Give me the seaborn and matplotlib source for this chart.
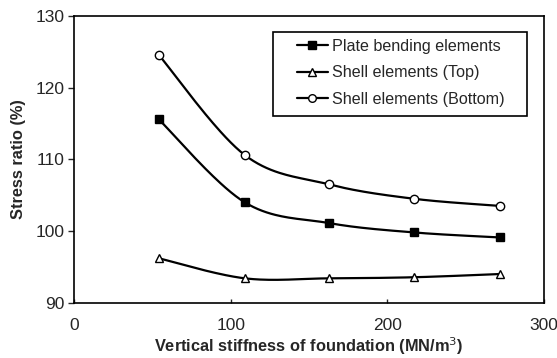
import numpy as np
import pandas as pd
import matplotlib
matplotlib.use("Agg")
import matplotlib.pyplot as plt
from matplotlib.lines import Line2D
from matplotlib.patches import Rectangle
import seaborn as sns

stiffness = [54, 109, 163, 217, 272]
plate_bending = [115.6, 104.0, 101.1, 99.8, 99.1]
shell_top = [96.2, 93.4, 93.4, 93.55, 94.0]
shell_bottom = [124.6, 110.6, 106.5, 104.5, 103.5]
series_names = ["Plate bending elements", "Shell elements (Top)", "Shell elements (Bottom)"]
x_ticks = [0, 100, 200, 300]
y_ticks = [90, 100, 110, 120, 130]

sns.set_style("white")
plt.rcParams["font.family"] = ["Liberation Sans", "DejaVu Sans"]


def smooth(xs, ys, n=40):
    """Excel-like Catmull-Rom Bezier smoothing through the data points."""
    P = np.column_stack([xs, ys]).astype(float)
    ext = np.vstack([P[0], P, P[-1]])
    out = []
    t = np.linspace(0, 1, n)[:, None]
    for i in range(len(P) - 1):
        p0, p1, p2, p3 = ext[i], ext[i + 1], ext[i + 2], ext[i + 3]
        b1 = p1 + (p2 - p0) / 6.0
        b2 = p2 - (p3 - p1) / 6.0
        seg = ((1 - t) ** 3) * p1 + 3 * ((1 - t) ** 2) * t * b1 + 3 * (1 - t) * t ** 2 * b2 + t ** 3 * p2
        out.append(seg if i == 0 else seg[1:])
    arr = np.vstack(out)
    return arr[:, 0], arr[:, 1]


fig = plt.figure(figsize=(5.57, 3.58), dpi=100)
ax = fig.add_axes([0.1329, 0.1545, 0.8438, 0.8008])

series = [plate_bending, shell_top, shell_bottom]
markers = ["s", "^", "o"]
faces = ["black", "white", "white"]
sizes = [6, 6, 6]
handles = []
for name, ys, m, fc, ms in zip(series_names, series, markers, faces, sizes):
    sx, sy = smooth(stiffness, ys)
    df = pd.DataFrame({"x": sx, "y": sy})
    sns.lineplot(data=df, x="x", y="y", ax=ax, color="black", linewidth=1.6,
                 sort=False, estimator=None, legend=False)
    ax.plot(stiffness, ys, linestyle="none", marker=m, markersize=ms,
            markerfacecolor=fc, markeredgecolor="black", markeredgewidth=1.0, zorder=5)
    handles.append(Line2D([], [], color="black", linewidth=1.6, marker=m, markersize=ms - 0.5,
                          markerfacecolor=fc, markeredgecolor="black", markeredgewidth=1.0))

ax.set_xlim(0, 300)
ax.set_ylim(90, 130)
ax.set_xticks(x_ticks)
ax.set_yticks(y_ticks)
ax.tick_params(axis="x", direction="in", length=3, width=1, labelsize=12.5, pad=11)
ax.tick_params(axis="y", direction="out", length=4, width=1, labelsize=12.5, pad=3, left=True)
ax.tick_params(axis="x", bottom=True)
for s in ax.spines.values():
    s.set_color("black")
    s.set_linewidth(1.2)

ax.set_xlabel("Vertical stiffness of foundation (MN/m$^3$)", fontsize=11.8, fontweight="bold", labelpad=2)
ax.set_ylabel("Stress ratio (%)", fontsize=11.8, fontweight="bold", labelpad=7)

leg = ax.legend(handles, series_names, loc="upper left", bbox_to_anchor=(0.4745, 0.921),
                fontsize=11.6, frameon=False,
                handlelength=1.9, handletextpad=0.25, borderpad=0.0, labelspacing=0.72,
                borderaxespad=0)
ax.add_patch(Rectangle((0.4234, 0.6512), 0.9638 - 0.4234, 0.9442 - 0.6512,
                       transform=ax.transAxes, fill=True, facecolor="white",
                       edgecolor="black", linewidth=1.2, zorder=4))
leg.set_zorder(6)

fig.savefig("out.png", dpi=100)
